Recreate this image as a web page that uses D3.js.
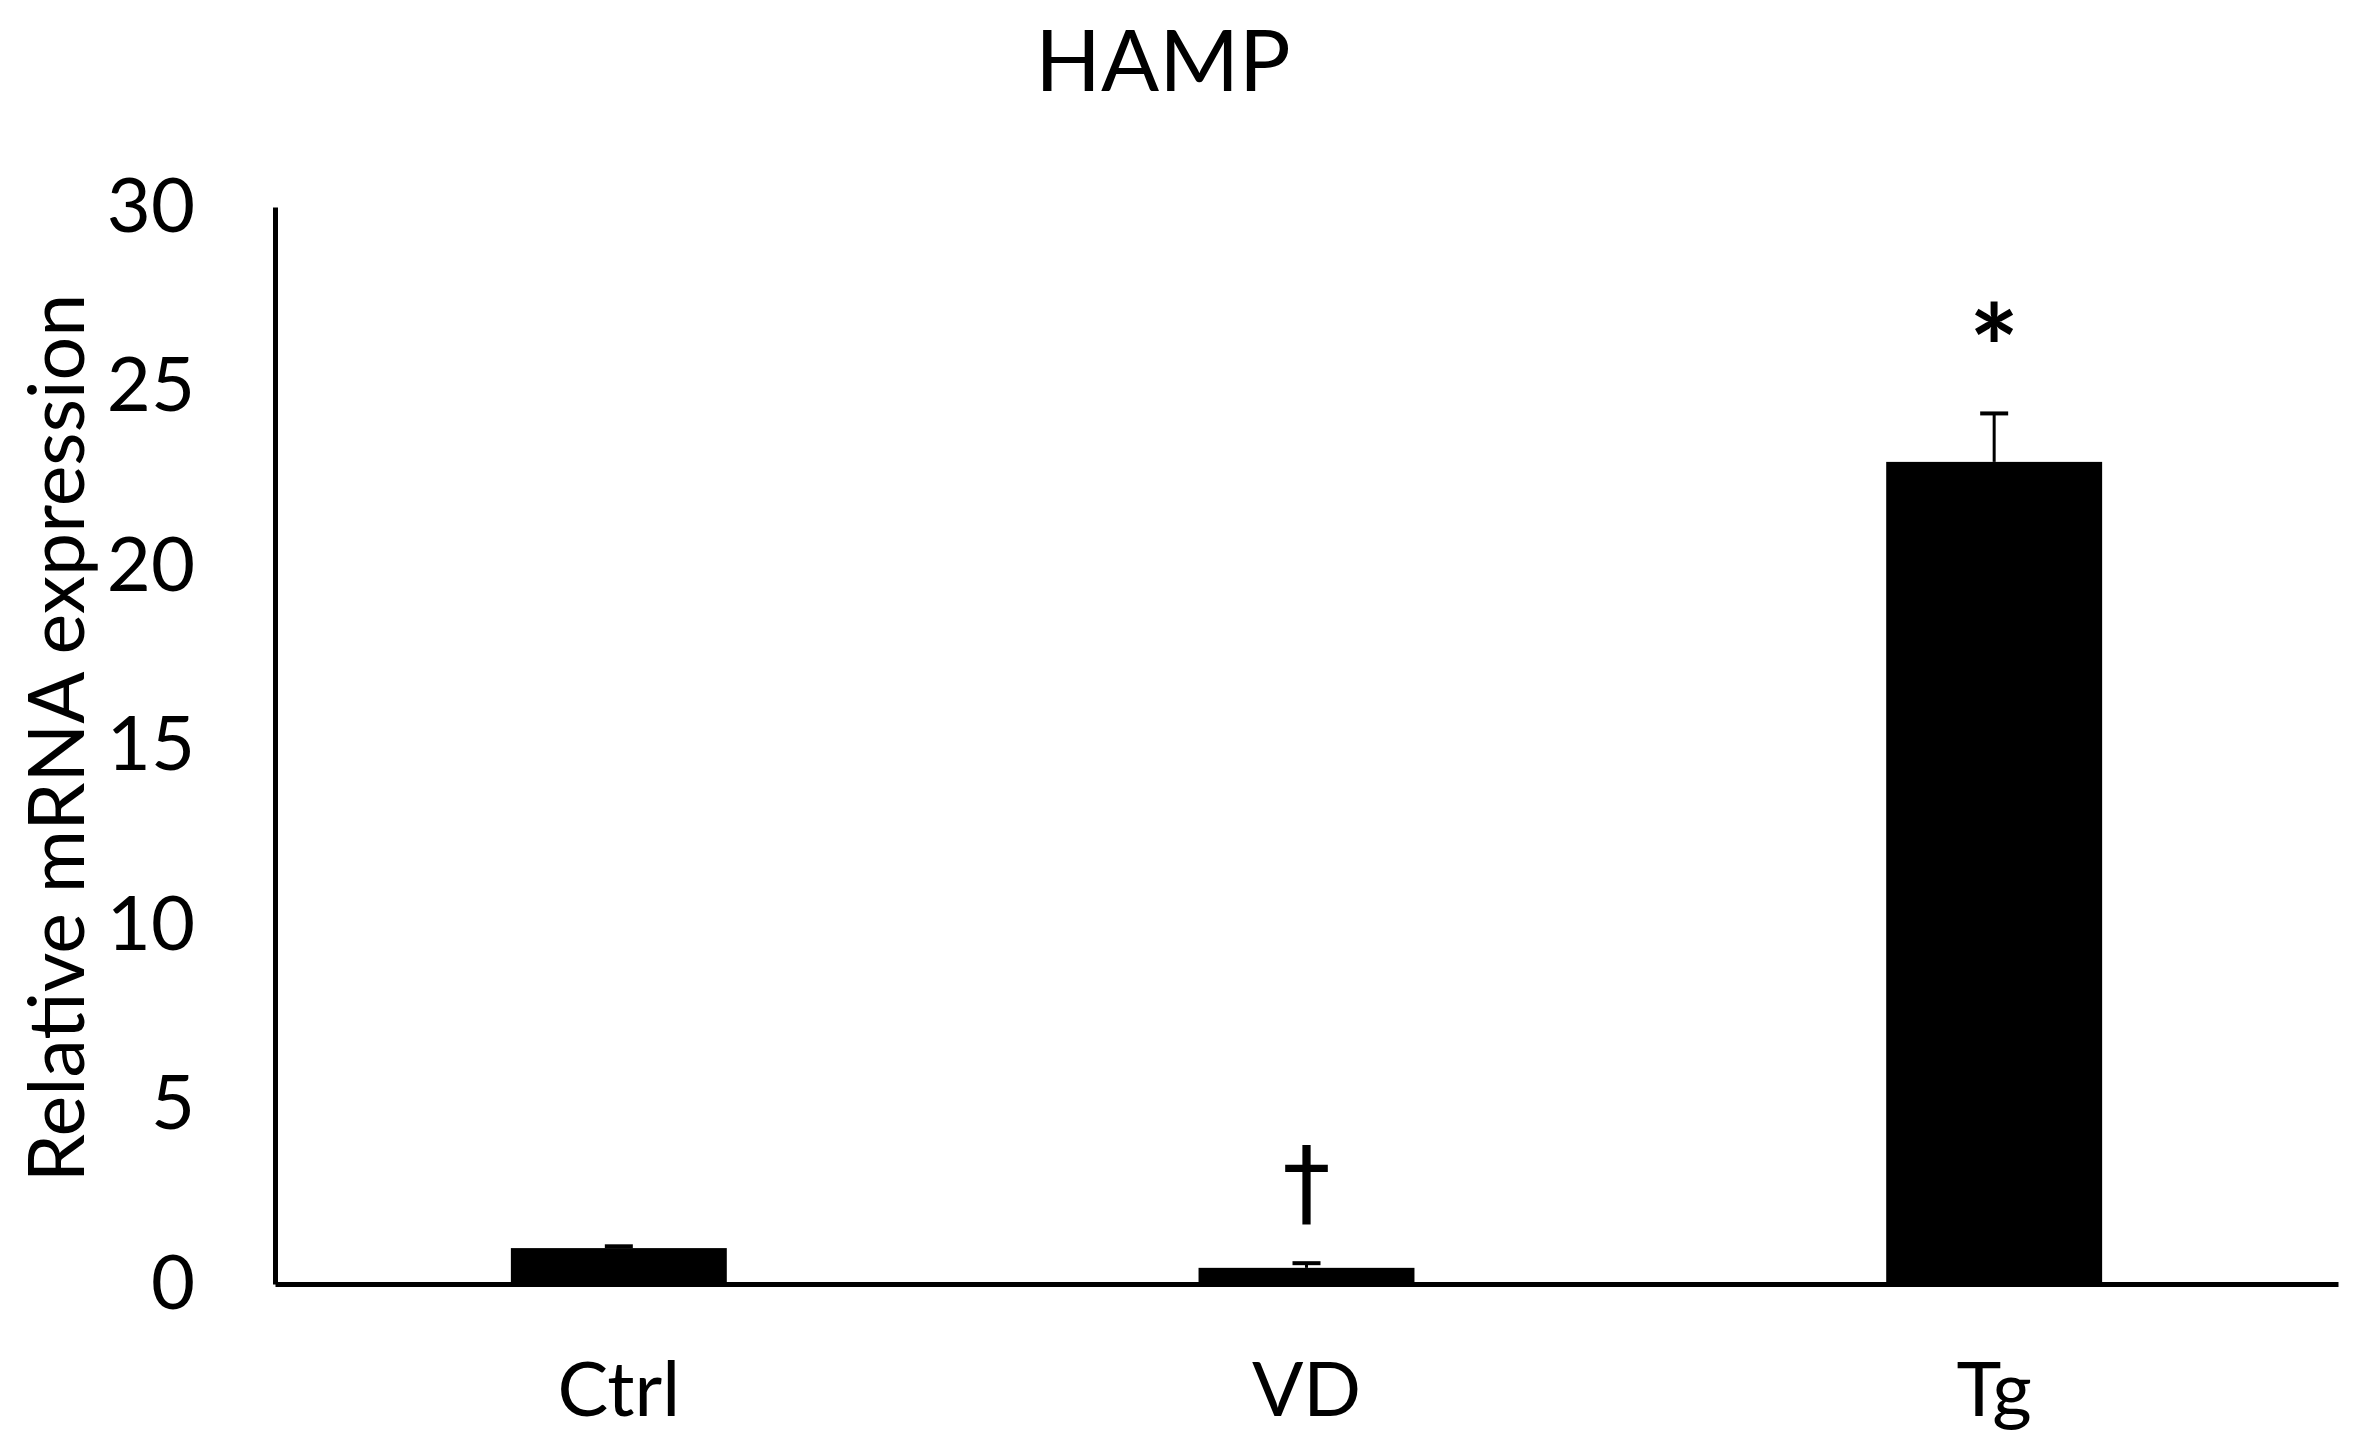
<!DOCTYPE html>
<html>
<head>
<meta charset="utf-8">
<script src="https://cdn.jsdelivr.net/npm/d3@7"></script>
<style>
  html, body { margin: 0; padding: 0; background: #fff; }
  svg text { font-family: Lato, "Open Sans", sans-serif; fill: #000; }
</style>
</head>
<body>
<svg id="chart" width="2357" height="1448"></svg>
<script>
const categories = ["Ctrl", "VD", "Tg"];
const means = [1.0, 0.45, 22.9];
const errors = [0.05, 0.13, 1.35];
const marks = ["", "\u2020", "*"];
const yTicks = [0, 5, 10, 15, 20, 25, 30];
const title = "HAMP";
const yTitle = "Relative mRNA expression";

const svg = d3.select("#chart");
const mLeft = 275, mRight = 2338, mTop = 207, mBottom = 1284;

const x = d3.scaleBand().domain(categories).range([mLeft, mRight])
  .paddingInner(0.686).paddingOuter(0.343);
const y = d3.scaleLinear().domain([0, 30]).range([mBottom, mTop]);

// title
svg.append("text").attr("x", 1163).attr("y", 91)
  .attr("text-anchor", "middle").attr("font-size", 86).text(title);

// y axis title
svg.append("text")
  .attr("transform", `translate(84, 738) rotate(-90)`)
  .attr("text-anchor", "middle").attr("font-size", 77).text(yTitle);

// bars
svg.selectAll("rect.bar").data(categories).enter().append("rect")
  .attr("class", "bar")
  .attr("x", d => x(d)).attr("width", x.bandwidth())
  .attr("y", (d, i) => y(means[i]))
  .attr("height", (d, i) => y(0) - y(means[i]))
  .attr("fill", "#000");

// error bars (upper only)
const eb = svg.append("g").attr("stroke", "#000").attr("stroke-width", 3);
categories.forEach((c, i) => {
  const cx = x(c) + x.bandwidth() / 2;
  eb.append("line").attr("x1", cx).attr("x2", cx)
    .attr("y1", y(means[i])).attr("y2", y(means[i] + errors[i]));
  eb.append("line").attr("x1", cx - 14).attr("x2", cx + 14)
    .attr("y1", y(means[i] + errors[i])).attr("y2", y(means[i] + errors[i]))
    .attr("stroke-width", 4);
});

// significance marks
categories.forEach((c, i) => {
  if (!marks[i]) return;
  const cx = x(c) + x.bandwidth() / 2;
  const isStar = marks[i] === "*";
  svg.append("text").attr("x", cx)
    .attr("y", y(means[i] + errors[i]) - (isStar ? 96 : 86))
    .attr("text-anchor", "middle").attr("dominant-baseline", "central")
    .style("font-family", isStar ? "Lato, sans-serif" : "'DejaVu Sans', sans-serif")
    .attr("font-size", isStar ? 118 : 96)
    .attr("font-weight", isStar ? 700 : 400)
    .attr("dy", isStar ? "0.25em" : "0.05em")
    .text(marks[i]);
});

// y axis
const yAxis = d3.axisLeft(y).tickValues(yTicks).tickSize(0).tickPadding(80);
const gy = svg.append("g").attr("transform", `translate(${mLeft},0)`).call(yAxis);
gy.select(".domain").attr("stroke", "#000").attr("stroke-width", 5);
gy.selectAll(".tick text").attr("font-size", 76).attr("font-family", "Lato, 'Open Sans', sans-serif").attr("fill", "#000");

// x axis
const xAxis = d3.axisBottom(x).tickSize(0).tickPadding(78);
const gx = svg.append("g").attr("transform", `translate(0,${mBottom})`).call(xAxis);
gx.select(".domain").attr("stroke", "#000").attr("stroke-width", 5);
gx.selectAll(".tick text").attr("font-size", 76).attr("font-family", "Lato, 'Open Sans', sans-serif").attr("fill", "#000");
</script>
</body>
</html>
